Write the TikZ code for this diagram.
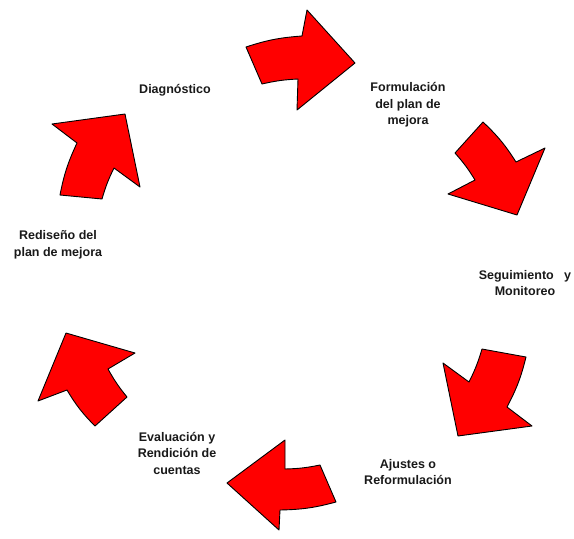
\documentclass[tikz,border=0pt]{standalone}
\usepackage{fontspec}
\setmainfont{Liberation Sans}
\usepackage{tikz}

% curved arrow: tail outer, outer join, head outer, tip, head inner, inner join, tail inner
\newcommand{\flecha}[7]{%
  \draw[cyclearrow] #1 to[bend left=7] #2 -- #3 -- #4 -- #5 -- #6 to[bend right=5] #7 -- cycle;}

\begin{document}
\begin{tikzpicture}[x=1pt,y=-1pt,
    cyclearrow/.style={fill=red, draw=black, line width=0.9pt, line join=round},
    etapa/.style={font=\fontsize{12.5}{16.5}\selectfont\bfseries, align=center, text=black!90}]
      \useasboundingbox (0,0) rectangle (574,539);

      \flecha{(246,47)}{(302,36)}{(307,10)}{(355,63)}{(297,110)}{(298,79)}{(262,84)}
      \flecha{(483,122)}{(516,162)}{(545,148)}{(517,215)}{(448,194)}{(475,180)}{(455,153)}
      \flecha{(526,357)}{(507,407)}{(532,426)}{(458,436)}{(443,363)}{(469,382)}{(482,349)}
      \flecha{(336,502)}{(280,510)}{(279,530)}{(227,483)}{(285,440)}{(285,469)}{(320,465)}
      \flecha{(95,426)}{(67,390)}{(38,401)}{(66,333)}{(135,353)}{(108,369)}{(127,397)}
      \flecha{(60,195)}{(77,143)}{(52,124)}{(125,114)}{(140,187)}{(114,168)}{(102,199)}

      \node[etapa] (diag)  at (175,90)  {Diagnóstico};
      \node[etapa] (form)  at (408,105) {Formulación\\del plan de\\mejora};
      \node[etapa] (segu)  at (525,283) {Seguimiento\ \ \ y\\Monitoreo};
      \node[etapa] (ajus)  at (408,472) {Ajustes o\\Reformulación};
      \node[etapa] (eval)  at (177,453) {Evaluación y\\Rendición de\\cuentas};
      \node[etapa] (redis) at (58,245)  {Rediseño del\\plan de mejora};
    \end{tikzpicture}
\end{document}
